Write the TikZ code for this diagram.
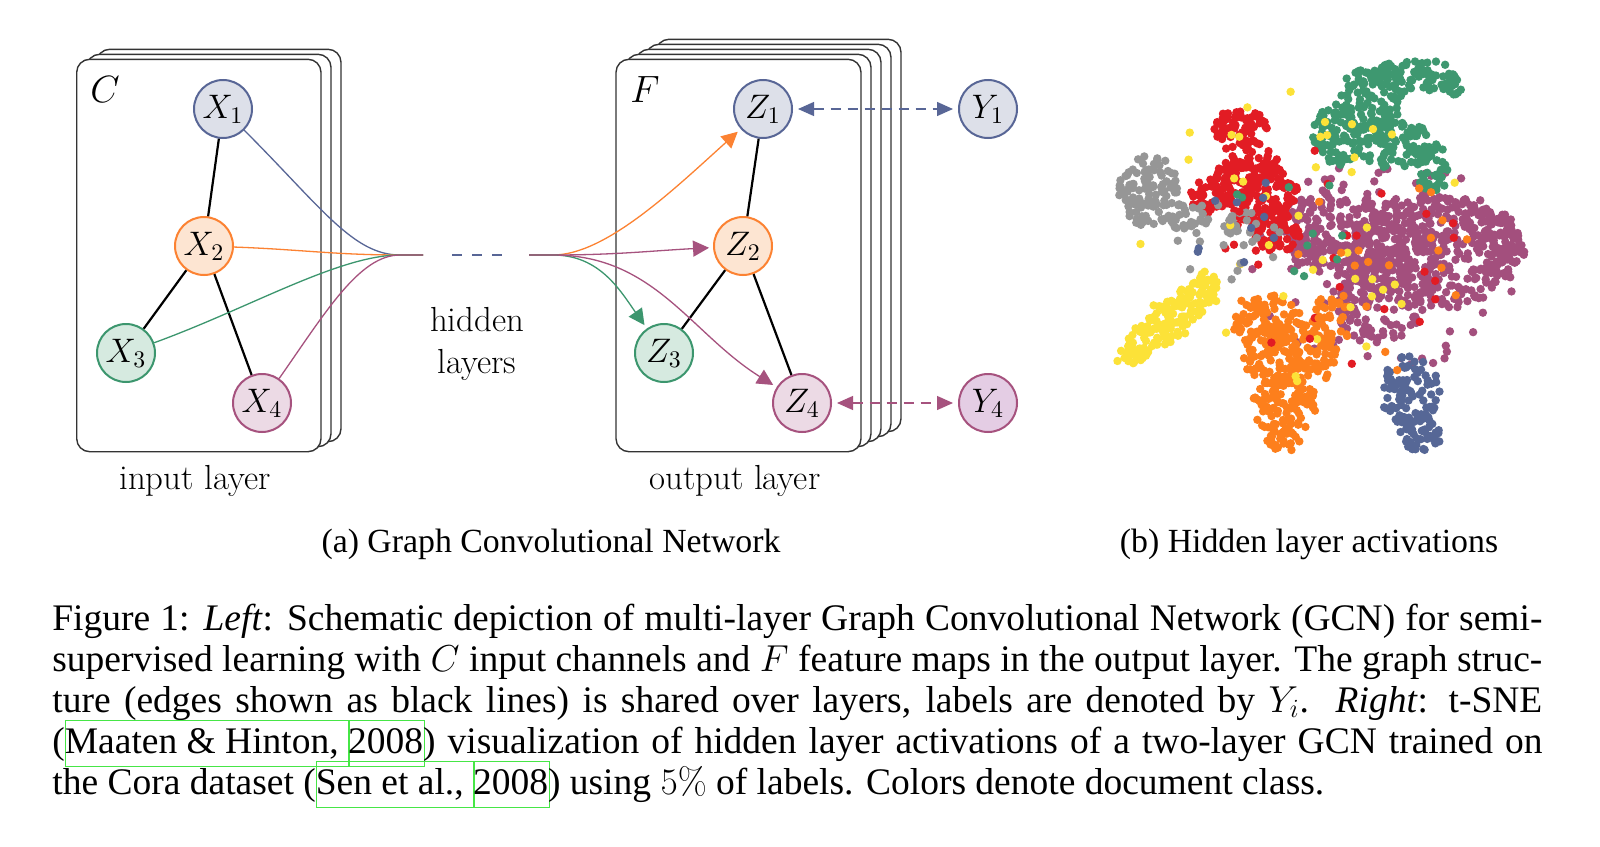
\documentclass[tikz,border=0pt]{standalone}
\usepackage{fix-cm}
\usepackage[no-math]{fontspec}
\newfontfamily\timesfont{Liberation Serif}
\usetikzlibrary{arrows.meta,calc}

\definecolor{cblue}{RGB}{88,102,150}
\definecolor{cbluef}{RGB}{221,224,233}
\definecolor{corange}{RGB}{252,130,50}
\definecolor{corangef}{RGB}{253,229,210}
\definecolor{cgreen}{RGB}{60,150,110}
\definecolor{cgreenf}{RGB}{214,234,224}
\definecolor{cpurple}{RGB}{166,82,126}
\definecolor{cpurplef}{RGB}{236,218,229}
\definecolor{cpurpleg}{RGB}{228,205,228}
\definecolor{lgreen}{RGB}{70,230,70}
\definecolor{sgreen}{RGB}{62,152,112}
\definecolor{sred}{RGB}{226,28,36}
\definecolor{sgray}{RGB}{150,150,150}
\definecolor{syellow}{RGB}{252,226,56}
\definecolor{sorange}{RGB}{253,127,28}
\definecolor{spurple}{RGB}{163,79,125}
\definecolor{sblue}{RGB}{86,103,150}

\newcommand\cloud[7]{%
  \begin{scope}[shift={(#2,-#3)},rotate=#6]
  \foreach \k in {1,...,#7}{
    \pgfmathsetmacro\ang{360*rnd}
    \pgfmathsetmacro\rr{sqrt(rnd)}
    \fill[#1] ({#4*\rr*cos(\ang)},{#5*\rr*sin(\ang)}) circle[radius=2.1pt];
  }
  \end{scope}}

\newcommand\lbox[1]{\mbox{\rlap{\textcolor{lgreen}{\setlength\fboxsep{0pt}\setlength\fboxrule{0.5pt}\fbox{\phantom{#1}\rule[-0.35em]{0pt}{1.2em}}}}#1}}

\tikzset{
  card/.style={draw=black!80, line width=0.7pt, fill=white, rounded corners=6.5pt},
  vnode/.style={circle, line width=1pt, minimum size=29pt, inner sep=0pt, font=\fontsize{17}{20}\selectfont},
  nblue/.style={vnode, draw=cblue, fill=cbluef},
  norange/.style={vnode, draw=corange, fill=corangef},
  ngreen/.style={vnode, draw=cgreen, fill=cgreenf},
  npurple/.style={vnode, draw=cpurple, fill=cpurplef},
  gedge/.style={line width=1.1pt, black},
  flow/.style={line width=0.65pt},
  arrowtip/.style={-{Triangle[length=8pt,width=8pt]}, shorten >=2pt},
  dflow/.style={line width=0.65pt, dash pattern=on 5pt off 3.5pt, {Triangle[length=8pt,width=7pt]}-{Triangle[length=8pt,width=7pt]}, shorten <=2.5pt, shorten >=2.5pt},
  labtxt/.style={font=\fontsize{17.4}{20}\selectfont},
  bigtxt/.style={font=\fontsize{19}{22}\selectfont},
  captxt/.style={font=\timesfont\fontsize{18.75}{20.6}\selectfont, inner sep=0pt},
  subcaptxt/.style={font=\timesfont\fontsize{16.9}{20}\selectfont, inner sep=0pt},
}

\begin{document}
\begin{tikzpicture}[x=0.5pt,y=0.5pt]
\useasboundingbox (0,0) rectangle (1600,-846);
\fill[white] (0,0) rectangle (1600,-846);

% input layer cards
\draw[card] (96.7,-49.3) rectangle ++(244.3,-392.4);
\draw[card] (86.7,-54.3) rectangle ++(244.3,-392.4);
\draw[card] (76.7,-59.3) rectangle ++(244.3,-392.4);
% output layer cards
\draw[card] (656,-39.3) rectangle ++(245,-392.4);
\draw[card] (646,-44.3) rectangle ++(245,-392.4);
\draw[card] (636,-49.3) rectangle ++(245,-392.4);
\draw[card] (626,-54.3) rectangle ++(245,-392.4);
\draw[card] (616,-59.3) rectangle ++(245,-392.4);

\node[bigtxt] (Clab) at (105,-90) {$C$};
\node[bigtxt] (Flab) at (645,-90) {$F$};

% input graph
\node[nblue] (X1) at (223,-109) {$X_1$};
\node[norange] (X2) at (204,-246) {$X_2$};
\node[ngreen] (X3) at (126,-353) {$X_3$};
\node[npurple] (X4) at (262,-403) {$X_4$};
\draw[gedge] (X1) -- (X2);
\draw[gedge] (X2) -- (X3);
\draw[gedge] (X2) -- (X4);

% output graph
\node[nblue] (Z1) at (763,-109) {$Z_1$};
\node[norange] (Z2) at (743,-246) {$Z_2$};
\node[ngreen] (Z3) at (664,-353) {$Z_3$};
\node[npurple] (Z4) at (802,-403) {$Z_4$};
\draw[gedge] (Z1) -- (Z2);
\draw[gedge] (Z2) -- (Z3);
\draw[gedge] (Z2) -- (Z4);

\node[nblue] (Y1) at (988,-109) {$Y_1$};
\node[npurple, fill=cpurpleg] (Y4) at (988,-403) {$Y_4$};

% hidden layers bundle
\coordinate (h0) at (400,-255);
\coordinate (h1) at (423,-255);
\coordinate (d1) at (452,-255);
\coordinate (d2) at (502,-255);
\coordinate (h2) at (529,-255);
\coordinate (h3) at (553,-255);

\draw[flow, cblue] (X1) to[out=-45,in=180,out looseness=1.4,in looseness=0.6] (h0) -- (h1);
\draw[flow, corange] (X2) to[out=-2,in=180] (h0) -- (h1);
\draw[flow, cgreen] (X3) to[out=20,in=180,in looseness=0.6] (h0) -- (h1);
\draw[flow, cpurple] (X4) to[out=55,in=180,out looseness=1.2,in looseness=0.6] (h0) -- (h1);

\draw[flow, cblue, dash pattern=on 5pt off 5pt] (d1) -- (d2);

\draw[flow, corange, arrowtip] (h2) -- (h3) to[out=0,in=222,out looseness=0.6] (Z1);
\draw[flow, cpurple, arrowtip] (h2) -- (h3) to[out=0,in=183] (Z2);
\draw[flow, cgreen, arrowtip] (h2) -- (h3) to[out=0,in=125] (Z3);
\draw[flow, cpurple, arrowtip] (h2) -- (h3) to[out=0,in=148] (Z4);

\draw[dflow, cblue] (Z1) -- (Y1);
\draw[dflow, cpurple] (Z4) -- (Y4);

\node[labtxt, anchor=base] (hid1) at (477,-331) {hidden};
\node[labtxt, anchor=base] (hid2) at (477,-373) {layers};
\node[labtxt, anchor=base] (inl) at (195,-489) {input layer};
\node[labtxt, anchor=base] (outl) at (735,-489) {output layer};

% scatter plot
\pgfmathsetseed{7}
\cloud{spurple}{1385}{265}{135}{105}{0}{120}
\cloud{spurple}{1435}{250}{88}{57}{0}{430}
\cloud{spurple}{1340}{235}{50}{45}{0}{160}
\cloud{spurple}{1380}{305}{45}{38}{0}{110}
\cloud{spurple}{1500}{245}{25}{32}{0}{55}
\cloud{spurple}{1300}{235}{25}{35}{0}{35}
% green
\cloud{sgreen}{1338}{135}{25}{32}{0}{80}
\cloud{sgreen}{1370}{100}{32}{32}{0}{100}
\cloud{sgreen}{1415}{76}{42}{17}{0}{80}
\cloud{sgreen}{1452}{85}{12}{10}{0}{15}
\cloud{sgreen}{1395}{145}{42}{23}{0}{85}
\cloud{sgreen}{1432}{168}{18}{25}{0}{35}
% red
\cloud{sred}{1240}{130}{27}{22}{0}{65}
\cloud{sred}{1255}{190}{42}{42}{0}{185}
\cloud{sred}{1277}{232}{24}{20}{0}{50}
\cloud{sred}{1210}{195}{20}{18}{0}{35}
% gray
\cloud{sgray}{1148}{190}{30}{36}{0}{110}
\cloud{sgray}{1187}{215}{20}{16}{0}{28}
\cloud{sgray}{1232}{228}{45}{20}{0}{25}
% orange
\cloud{sorange}{1265}{320}{37}{27}{0}{85}
\cloud{sorange}{1292}{355}{52}{32}{0}{160}
\cloud{sorange}{1285}{405}{32}{30}{0}{100}
\cloud{sorange}{1285}{440}{18}{11}{0}{22}
\cloud{sorange}{1332}{320}{20}{25}{0}{35}
% blue
\cloud{sblue}{1410}{390}{30}{35}{0}{85}
\cloud{sblue}{1422}{432}{22}{20}{0}{45}
% yellow
\cloud{syellow}{1167}{322}{64}{18}{40}{150}
\cloud{syellow}{1205}{282}{15}{12}{0}{14}
% sprinkles
\cloud{syellow}{1300}{240}{170}{150}{0}{45}
\cloud{sred}{1330}{260}{140}{120}{0}{25}
\cloud{sorange}{1360}{280}{120}{110}{0}{25}
\cloud{sgray}{1230}{240}{60}{40}{0}{14}
\cloud{sgreen}{1300}{220}{80}{60}{0}{10}
\cloud{sblue}{1250}{230}{70}{50}{0}{10}

% sub-captions
\node[subcaptxt, anchor=base] (suba) at (551,-552) {(a) Graph Convolutional Network};
\node[subcaptxt, anchor=base] (subb) at (1309,-552) {(b) Hidden layer activations};

% caption
\node[captxt, anchor=base west] (cap1) at (52,-630) {\makebox[745pt][s]{Figure 1: \textit{Left}: Schematic depiction of multi-layer Graph Convolutional Network (GCN) for semi-}};
\node[captxt, anchor=base west] (cap2) at (52,-671) {\makebox[745pt][s]{supervised learning with $C$ input channels and $F$ feature maps in the output layer. The graph struc-}};
\node[captxt, anchor=base west] (cap3) at (52,-712) {\makebox[745pt][s]{ture (edges shown as black lines) is shared over layers, labels are denoted by $Y_i$.\ \ \textit{Right}: t-SNE}};
\node[captxt, anchor=base west] (cap4) at (52,-753) {\makebox[745pt][s]{(\lbox{Maaten \& Hinton,~}\lbox{2008}) visualization of hidden layer activations of a two-layer GCN trained on}};
\node[captxt, anchor=base west] (cap5) at (52,-794) {the Cora dataset (\lbox{Sen et al.,~}\lbox{2008}) using $5\%$ of labels. Colors denote document class.};
\end{tikzpicture}
\end{document}
